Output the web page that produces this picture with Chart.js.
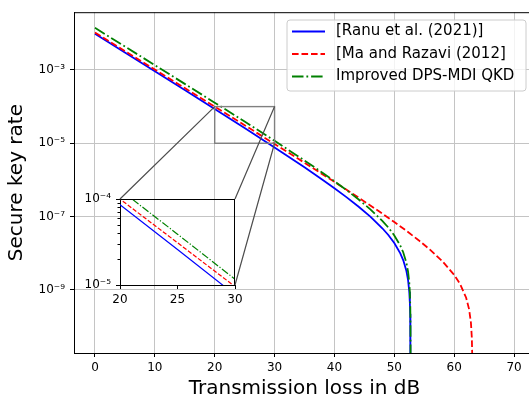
<!DOCTYPE html>
<html><head><meta charset="utf-8">
<script src="https://cdn.jsdelivr.net/npm/chart.js@4.4.0/dist/chart.umd.min.js"></script>
<style>
html,body{margin:0;padding:0;overflow:hidden;background:#fff;width:529px;height:396px;}
#wrap{position:relative;width:545px;height:396px;}
canvas{position:absolute;left:0;top:0;}
</style></head><body>
<div id="wrap"><canvas id="main" width="545" height="396"></canvas><canvas id="inset" width="545" height="396"></canvas></div>
<script>
// ---- data ----
const seriesLabels = ['[Ranu et al. (2021)]', '[Ma and Razavi (2012]', 'Improved DPS-MDI QKD'];

const blueLoss = [0,5,10,15,20,25,30,35,38,40,42,44,46,48,49,50,51,51.5,52,52.3,52.5,52.6,52.65,52.68,52.695,52.699];
const blueRate = [9.68e-3,2.985e-3,9.18e-4,2.82e-4,8.59e-5,2.59e-5,7.69e-6,2.21e-6,1.016e-6,5.94e-7,3.40e-7,1.89e-7,9.95e-8,4.80e-8,3.14e-8,1.90e-8,9.95e-9,6.41e-9,3.41e-9,1.845e-9,8.89e-10,4.37e-10,2.19e-10,8.7e-11,2.14e-11,4.3e-12];

const redLoss = [0,5,10,15,20,25,30,35,40,44,48,50,52,54,56,58,60,61,62,62.5,62.8,62.95,63.02,63.045];
const redRate = [1.046e-2,3.27e-3,1.024e-3,3.20e-4,9.98e-5,3.10e-5,9.59e-6,2.94e-6,8.85e-7,3.32e-7,1.205e-7,7.11e-8,4.11e-8,2.31e-8,1.236e-8,6.12e-9,2.56e-9,1.435e-9,6.12e-10,2.93e-10,1.26e-10,4.92e-11,1.46e-11,2.45e-12];

const greenLoss = [0,5,10,15,20,25,30,35,38,40,42,44,46,48,49,50,51,51.5,52,52.3,52.5,52.6,52.67,52.7,52.715,52.719];
const greenRate = [1.409e-2,4.365e-3,1.352e-3,4.17e-4,1.282e-4,3.90e-5,1.168e-5,3.39e-6,1.574e-6,9.25e-7,5.33e-7,2.97e-7,1.578e-7,7.66e-8,5.03e-8,3.06e-8,1.616e-8,1.05e-8,5.65e-9,3.13e-9,1.58e-9,8.45e-10,3.48e-10,1.38e-10,3.47e-11,6.9e-12];

const xTicks = [0,10,20,30,40,50,60,70];
const yTicks = [1e-9,1e-7,1e-5,1e-3];
const yTickLabels = ['10\u207B\u2079','10\u207B\u2077','10\u207B\u2075','10\u207B\u00B3'];

const insetX = [20,30];
const insetY = [1e-5,1e-4];
const insetXTicks = [20,25,30];
const insetYTicks = [1e-5,1e-4];
const insetYTickLabels = ['10\u207B\u2075','10\u207B\u2074'];
const insetMinorY = [2e-5,3e-5,4e-5,5e-5,6e-5,7e-5,8e-5,9e-5];

// ---- helpers ----
const zip = (xs, ys) => xs.map((x,i)=>({x:x, y:ys[i]}));
const FONT = 'DejaVu Sans';
const colors = ['#0000ff','#ff0000','#008000'];
const dashesMain = [[],[6.6,2.9],[11.5,2.9,1.8,2.9]];
const dashesInset = [[],[4.4,1.9],[7.6,1.9,1.2,1.9]];

function makeDatasets(width, dashes){
  const src = [[blueLoss,blueRate],[redLoss,redRate],[greenLoss,greenRate]];
  return src.map((s,i)=>({
    label: seriesLabels[i],
    data: zip(s[0], s[1]),
    borderColor: colors[i],
    borderWidth: width,
    borderDash: dashes[i],
    pointRadius: 0,
    fill: false,
    tension: 0,
    order: 3-i
  }));
}

const mainDecor = {
  id:'mainDecor',
  beforeDraw(chart){
    const c = chart.ctx; c.save(); c.fillStyle='#fff'; c.fillRect(0,0,chart.width,chart.height); c.restore();
  },
  afterDatasetsDraw(chart){
    const c = chart.ctx, xs = chart.scales.x, ys = chart.scales.y;
    const x0 = xs.getPixelForValue(insetX[0]), x1 = xs.getPixelForValue(insetX[1]);
    const y0 = ys.getPixelForValue(insetY[1]), y1 = ys.getPixelForValue(insetY[0]);
    c.save(); c.strokeStyle='#808080'; c.lineWidth=1.4;
    c.strokeRect(x0, y0, x1-x0, y1-y0); c.restore();
  },
  afterDraw(chart){
    const c = chart.ctx, a = chart.chartArea;
    c.save();
    c.strokeStyle='#000'; c.lineWidth=1;
    c.beginPath(); c.moveTo(a.left, a.top+0.5); c.lineTo(a.right, a.top+0.5);
    c.moveTo(a.right-0.5, a.top); c.lineTo(a.right-0.5, a.bottom); c.stroke();
    // legend
    const lx=287, ly=20, lw=239, lh=71, r=3;
    c.beginPath();
    c.moveTo(lx+r,ly); c.lineTo(lx+lw-r,ly); c.quadraticCurveTo(lx+lw,ly,lx+lw,ly+r);
    c.lineTo(lx+lw,ly+lh-r); c.quadraticCurveTo(lx+lw,ly+lh,lx+lw-r,ly+lh);
    c.lineTo(lx+r,ly+lh); c.quadraticCurveTo(lx,ly+lh,lx,ly+lh-r);
    c.lineTo(lx,ly+r); c.quadraticCurveTo(lx,ly,lx+r,ly); c.closePath();
    c.fillStyle='rgba(255,255,255,0.8)'; c.fill();
    c.strokeStyle='#cccccc'; c.lineWidth=1; c.stroke();
    const rows=[31.5,54,76.5];
    chart.data.datasets.forEach((ds,i)=>{
      c.strokeStyle=ds.borderColor; c.lineWidth=1.8; c.setLineDash(ds.borderDash);
      c.beginPath(); c.moveTo(292,rows[i]); c.lineTo(325,rows[i]); c.stroke();
      c.setLineDash([]);
      c.fillStyle='#000'; c.font='15px "'+FONT+'"'; c.textBaseline='middle'; c.textAlign='left';
      c.fillText(ds.label, 336, rows[i]);
    });
    c.restore();
  }
};

const mainChart = new Chart(document.getElementById('main'), {
  type:'line',
  data:{datasets: makeDatasets(1.8, dashesMain)},
  options:{
    responsive:false, animation:false, devicePixelRatio:1,
    layout:{padding:{left:0,right:10,top:11,bottom:0}},
    plugins:{legend:{display:false}, tooltip:{enabled:false}},
    scales:{
      x:{type:'linear', min:-3.5, max:73.5,
        afterBuildTicks:s=>{s.ticks = xTicks.map(v=>({value:v}));},
        afterFit:s=>{s.height=43;},
        ticks:{font:{family:FONT,size:12}, color:'#000', padding:4, maxRotation:0, autoSkip:false},
        grid:{color:'#c4c4c4', lineWidth:1, tickColor:'#000', tickLength:4},
        border:{color:'#000', width:1},
        title:{display:true, text:'Transmission loss in dB', color:'#000', font:{family:FONT,size:20,lineHeight:0.7}, padding:{top:0,bottom:0.5}}
      },
      y:{type:'logarithmic', min:1.9e-11, max:3.76e-2,
        afterBuildTicks:s=>{s.ticks = yTicks.map(v=>({value:v}));},
        afterFit:s=>{s.width=74;},
        ticks:{font:{family:FONT,size:12}, color:'#000', padding:5, autoSkip:false,
          callback:(v)=>{const k=yTicks.indexOf(v); return k>=0?yTickLabels[k]:'';}},
        grid:{color:'#c4c4c4', lineWidth:1, tickColor:'#000', tickLength:4},
        border:{color:'#000', width:1},
        title:{display:true, text:'Secure key rate', color:'#000', font:{family:FONT,size:20,lineHeight:0.7}, padding:{top:10,bottom:0}}
      }
    }
  },
  plugins:[mainDecor]
});

const insetDecor = {
  id:'insetDecor',
  afterDraw(chart){
    const c = chart.ctx, a = chart.chartArea, ys = chart.scales.y;
    c.save();
    c.strokeStyle='#000'; c.lineWidth=1;
    c.beginPath(); c.moveTo(a.left, a.top+0.5); c.lineTo(a.right, a.top+0.5);
    c.moveTo(a.right-0.5, a.top); c.lineTo(a.right-0.5, a.bottom); c.stroke();
    c.beginPath();
    insetMinorY.forEach(v=>{const y=Math.round(ys.getPixelForValue(v))+0.5; c.moveTo(a.left-2.5,y); c.lineTo(a.left,y);});
    c.stroke();
    // connectors from zoom box on main chart
    const mx = mainChart.scales.x, my = mainChart.scales.y;
    const bx0 = mx.getPixelForValue(insetX[0]), bx1 = mx.getPixelForValue(insetX[1]);
    const by0 = my.getPixelForValue(insetY[1]), by1 = my.getPixelForValue(insetY[0]);
    c.strokeStyle='#4d4d4d'; c.lineWidth=1.2;
    c.beginPath();
    c.moveTo(bx0,by0); c.lineTo(a.left,a.top);
    c.moveTo(bx1,by0); c.lineTo(a.right,a.top);
    c.moveTo(bx1,by1); c.lineTo(a.right,a.bottom);
    c.stroke();
    c.restore();
  }
};

new Chart(document.getElementById('inset'), {
  type:'line',
  data:{datasets: makeDatasets(1.2, dashesInset)},
  options:{
    responsive:false, animation:false, devicePixelRatio:1,
    layout:{padding:{left:0,right:310,top:199,bottom:0}},
    plugins:{legend:{display:false}, tooltip:{enabled:false}},
    scales:{
      x:{type:'linear', min:insetX[0], max:insetX[1],
        afterBuildTicks:s=>{s.ticks = insetXTicks.map(v=>({value:v}));},
        afterFit:s=>{s.height=111;},
        ticks:{font:{family:FONT,size:12}, color:'#000', padding:4, maxRotation:0, autoSkip:false},
        grid:{drawOnChartArea:false, tickColor:'#000', tickLength:4},
        border:{color:'#000', width:1}
      },
      y:{type:'logarithmic', min:insetY[0], max:insetY[1],
        afterBuildTicks:s=>{s.ticks = insetYTicks.map(v=>({value:v}));},
        afterFit:s=>{s.width=120;},
        ticks:{font:{family:FONT,size:12}, color:'#000', padding:5, autoSkip:false,
          callback:(v)=>{const k=insetYTicks.indexOf(v); return k>=0?insetYTickLabels[k]:'';}},
        grid:{drawOnChartArea:false, tickColor:'#000', tickLength:4},
        border:{color:'#000', width:1}
      }
    }
  },
  plugins:[insetDecor]
});
</script>
</body></html>
